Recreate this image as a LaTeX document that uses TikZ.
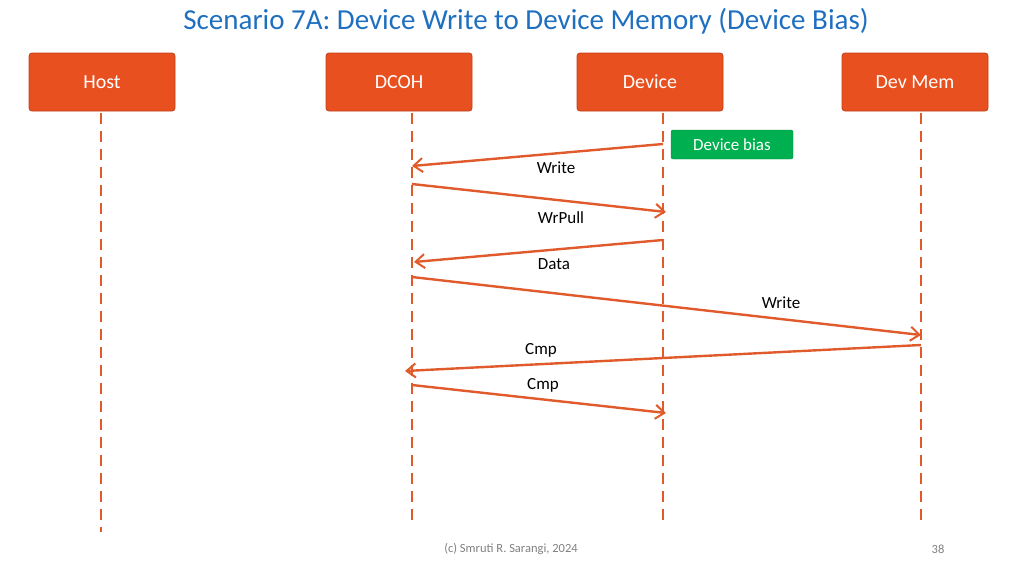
\documentclass[tikz,border=0pt]{standalone}
\usepackage{fontspec}
\setmainfont{Carlito}
\usetikzlibrary{arrows.meta}
\definecolor{box}{HTML}{E8501F}
\definecolor{boxb}{HTML}{C0401A}
\definecolor{ttl}{HTML}{1F6FC0}
\definecolor{grn}{HTML}{00B050}
\definecolor{lin}{HTML}{E05A2C}
\begin{document}
\begin{tikzpicture}[x=1pt,y=-1pt,
 actor/.style={draw=boxb,fill=box,rounded corners=3pt,minimum width=146pt,minimum height=58pt,text=white,font=\fontsize{20}{24}\selectfont,line width=0.8pt},
 life/.style={lin,line width=2.4pt,dash pattern=on 11pt off 7pt},
 msg/.style={lin,line width=2.4pt,-{Straight Barb[length=9pt,width=14pt,line width=2pt]}},
 lbl/.style={font=\fontsize{17}{20}\selectfont,text=black}]
\useasboundingbox (0,0) rectangle (1024,576);
\node[font=\fontsize{29}{33}\selectfont,text=ttl] (title) at (526,21) {Scenario 7A: Device Write to Device Memory (Device Bias)};
\node[actor] (host) at (102,82) {Host};
\node[actor] (dcoh) at (399,82) {DCOH};
\node[actor] (dev) at (650,82) {Device};
\node[actor] (mem) at (915,82) {Dev Mem};
\coordinate (h1) at (101,113); \coordinate (h2) at (101,532);
\coordinate (c1) at (412,113); \coordinate (c2) at (412,526);
\coordinate (d1) at (663,113); \coordinate (d2) at (663,526);
\coordinate (m1) at (921,113); \coordinate (m2) at (921,526);
\draw[life] (h1)--(h2); \draw[life] (c1)--(c2); \draw[life] (d1)--(d2); \draw[life] (m1)--(m2);
\node[fill=grn,draw=grn!80!black,rounded corners=2pt,minimum width=122pt,minimum height=29pt,text=white,font=\fontsize{17}{20}\selectfont] (bias) at (732,144.5) {Device bias};
\coordinate (a1) at (663,144); \coordinate (b1) at (412,166);
\coordinate (a2) at (412,184); \coordinate (b2) at (666,212);
\coordinate (a3) at (663,240); \coordinate (b3) at (414,262);
\coordinate (a4) at (412,277); \coordinate (b4) at (921,335);
\coordinate (a5) at (921,345); \coordinate (b5) at (405,371);
\coordinate (a6) at (412,385); \coordinate (b6) at (666,413);
\draw[msg] (a1)--(b1); \draw[msg] (a2)--(b2); \draw[msg] (a3)--(b3);
\draw[msg] (a4)--(b4); \draw[msg] (a5)--(b5); \draw[msg] (a6)--(b6);
\node[lbl] (l1) at (556,168) {Write};
\node[lbl] (l2) at (561,218) {WrPull};
\node[lbl] (l3) at (554,264) {Data};
\node[lbl] (l4) at (781,303) {Write};
\node[lbl] (l5) at (541,350) {Cmp};
\node[lbl] (l6) at (543,385) {Cmp};
\node[font=\fontsize{12.5}{14}\selectfont,text=gray] (foot) at (511,549) {(c) Smruti R. Sarangi, 2024};
\node[font=\fontsize{12.5}{14}\selectfont,text=gray] (pg) at (938,549) {38};
\end{tikzpicture}
\end{document}
